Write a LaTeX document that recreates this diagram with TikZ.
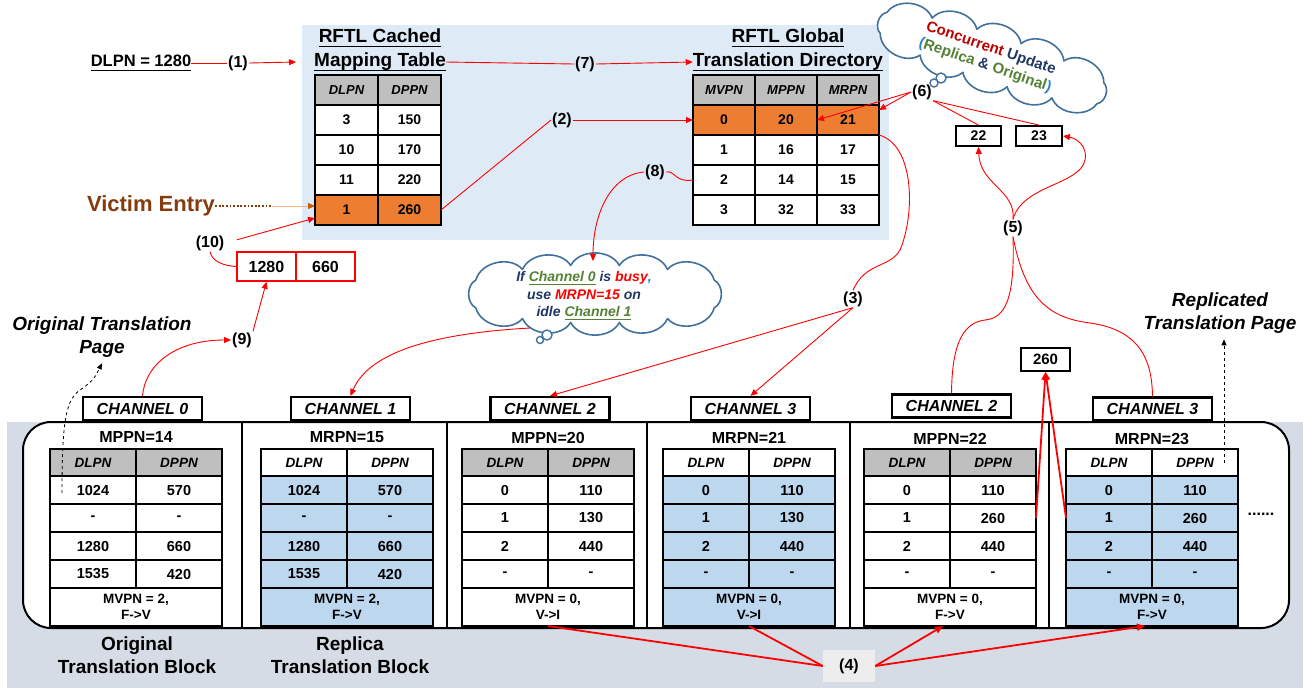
\documentclass[tikz,border=0pt]{standalone}
\usepackage{fontspec}
\setmainfont{Liberation Sans}
\usetikzlibrary{arrows.meta}
\newcommand{\myul}[2][0.2em]{\leavevmode\setbox0\hbox{#2}\rlap{\vrule height -#1 depth \dimexpr#1+1.4pt\relax width \wd0}\box0}
\definecolor{navy}{HTML}{203864}
\definecolor{cgreen}{HTML}{548235}
\definecolor{dred}{HTML}{C00000}
\definecolor{lblue}{HTML}{2E86C8}
\definecolor{cloudblue}{HTML}{41719C}
\definecolor{ora}{HTML}{ED7D31}
\definecolor{hgrey}{HTML}{BFBFBF}
\definecolor{cblue}{HTML}{BDD7EE}
\definecolor{topbg}{HTML}{DEEBF7}
\definecolor{botbg}{HTML}{D6DCE5}
\definecolor{victim}{HTML}{843C0C}
\definecolor{vline}{HTML}{F4B183}
\definecolor{vtip}{HTML}{C55A11}
\definecolor{sfour}{HTML}{EDEDED}
\newcommand{\fs}[2]{\fontsize{#1}{#2}\selectfont}
\tikzset{
 cellT/.style={draw=black, line width=2.2pt, inner sep=0pt, outer sep=0pt, minimum height=30pt, font=\bfseries\fs{14}{16}},
 hcellT/.style={cellT, font=\bfseries\itshape\fs{13}{15}},
 cellB/.style={draw=black, line width=2.2pt, inner sep=0pt, outer sep=0pt, minimum width=86pt, minimum height=28pt, font=\bfseries\fs{14.5}{17}},
 hcellB/.style={cellB, minimum height=27pt, font=\bfseries\itshape\fs{13.5}{16}},
 fcellB/.style={cellB, minimum width=172pt, minimum height=38pt, align=center, font=\bfseries\fs{13.5}{16}},
 chbox/.style={draw=black, line width=2.2pt, fill=white, minimum width=119pt, minimum height=23pt, inner sep=0pt, font=\bfseries\itshape\fs{16}{19}},
 blk/.style={font=\bfseries\fs{16}{19}, inner sep=0pt},
 stp/.style={font=\bfseries\fs{16}{19}, inner sep=1pt},
 ttl/.style={font=\bfseries\fs{19}{22}, inner sep=0pt},
 nbox/.style={draw=black, line width=1.8pt, fill=white, inner sep=0pt, font=\bfseries\fs{14}{16}},
 kbox/.style={draw=red, line width=1.5pt, fill=white, inner sep=0pt, minimum width=59pt, minimum height=29pt, font=\bfseries\fs{16}{19}},
 rl/.style={draw=red, line width=0.9pt},
 ra/.style={rl, -{Triangle[length=7pt,width=6pt]}},
 rthick/.style={draw=red, line width=1.8pt},
 rthicka/.style={rthick, -{Triangle[length=8pt,width=7pt]}},
 cloudline/.style={draw=cloudblue, line width=1.6pt, fill=white, line join=round},
 bub/.style={draw=cloudblue, line width=1.4pt, fill=white}
}
\newcommand{\btab}[6]{%
 \node[hcellB, fill=#3] (#1-h1) at ({#2+43},462.5) {DLPN};
 \node[hcellB, fill=#3] (#1-h2) at ({#2+129},462.5) {DPPN};
 \foreach \a/\b [count=\r] in {#5}{
  \node[cellB, fill=#4] (#1-\r-a) at ({#2+43},{462+28*\r}) {\a};
  \node[cellB, fill=#4] (#1-\r-b) at ({#2+129},{462+28*\r}) {\b};
 }
 \node[fcellB, fill=#4] (#1-f) at ({#2+86},607) {#6};
}
% cloud outline: centre x, centre y, rotation, semi-axis a, semi-axis b
\newcommand{\mycloud}[5]{%
 \begin{scope}[shift={(#1,#2)}, rotate=#3]
 \draw[cloudline] ({#4*cos(28.8)},{#5*sin(28.8)})
  \foreach \t in {57.8,79.7,100.3,122.2,151.2,208.8,237.8,259.7,280.3,302.2,331.2,388.8}
  { to[bend left=62] ({#4*cos(\t)},{#5*sin(\t)}) } -- cycle;
 \end{scope}}
\begin{document}
\begin{tikzpicture}[x=1pt,y=-1pt]
\useasboundingbox (0,0) rectangle (1306,689);
% backgrounds
\fill[topbg] (302,25) rectangle (889,240);
\fill[botbg] (7,422) rectangle (1303,688);
\draw[line width=2pt, fill=white, rounded corners=28pt] (23,422) rectangle (1289,628);
\foreach \x in {242,447,647,850,1049} \draw[line width=2pt] (\x,422) -- (\x,628);

% titles
\node[ttl] (rc) at (380,38) {\myul{RFTL Cached}};
\node[ttl] (mt) at (380,62) {\myul{Mapping Table}};
\node[ttl] (rg) at (788,38) {\myul{RFTL Global}};
\node[ttl] (td) at (788,62) {\myul{Translation Directory}};

% cached table
\node[hcellT, fill=hgrey, minimum width=63pt] (c-h1) at (346.5,90) {DLPN};
\node[hcellT, fill=hgrey, minimum width=63pt] (c-h2) at (409.5,90) {DPPN};
\foreach \a/\b/\f [count=\r] in {3/150/white,10/170/white,11/220/white,1/260/ora}{
 \node[cellT, fill=\f, minimum width=63pt] (c-\r-a) at (346.5,{90+30*\r}) {\a};
 \node[cellT, fill=\f, minimum width=63pt] (c-\r-b) at (409.5,{90+30*\r}) {\b};
}
% global table
\node[hcellT, fill=hgrey, minimum width=62pt] (g-h1) at (724,90) {MVPN};
\node[hcellT, fill=hgrey, minimum width=62pt] (g-h2) at (786,90) {MPPN};
\node[hcellT, fill=hgrey, minimum width=62pt] (g-h3) at (848,90) {MRPN};
\foreach \a/\b/\c/\f [count=\r] in {0/20/21/ora,1/16/17/white,2/14/15/white,3/32/33/white}{
 \node[cellT, fill=\f, minimum width=62pt] (g-\r-a) at (724,{90+30*\r}) {\a};
 \node[cellT, fill=\f, minimum width=62pt] (g-\r-b) at (786,{90+30*\r}) {\b};
 \node[cellT, fill=\f, minimum width=62pt] (g-\r-c) at (848,{90+30*\r}) {\c};
}

% bottom tables
\btab{t1}{50}{hgrey}{white}{1024/570,-/-,1280/660,1535/420}{MVPN = 2,\\F->V}
\btab{t2}{261}{white}{cblue}{1024/570,-/-,1280/660,1535/420}{MVPN = 2,\\F->V}
\btab{t3}{462}{hgrey}{white}{0/110,1/130,2/440,-/-}{MVPN = 0,\\V->I}
\btab{t4}{663}{white}{cblue}{0/110,1/130,2/440,-/-}{MVPN = 0,\\V->I}
\btab{t5}{864}{hgrey}{white}{0/110,1/260,2/440,-/-}{MVPN = 0,\\F->V}
\btab{t6}{1066}{white}{cblue}{0/110,1/260,2/440,-/-}{MVPN = 0,\\F->V}
\node[blk] (l1) at (136,437) {MPPN=14};
\node[blk] (l2) at (347,437) {MRPN=15};
\node[blk] (l3) at (548,438) {MPPN=20};
\node[blk] (l4) at (749,438) {MRPN=21};
\node[blk] (l5) at (950,439) {MPPN=22};
\node[blk] (l6) at (1152,439) {MRPN=23};
\node[font=\bfseries\fs{16}{19}] (dots) at (1261,514) {......};

% channel boxes
\node[chbox] (ch0) at (142.5,408.5) {CHANNEL 0};
\node[chbox] (ch1) at (350.5,408.5) {CHANNEL 1};
\node[chbox] (ch2a) at (550,408.5) {CHANNEL 2};
\node[chbox] (ch3a) at (750.5,408.5) {CHANNEL 3};
\node[chbox] (ch2b) at (951.5,406) {CHANNEL 2};
\node[chbox] (ch3b) at (1152.5,409) {CHANNEL 3};

% labels
\node[font=\bfseries\fs{19}{23}, align=center] (ob) at (137,655) {Original\\Translation Block};
\node[font=\bfseries\fs{19}{23}, align=center] (rb) at (350,655) {Replica\\Translation Block};
\node[font=\bfseries\fs{22}{26}, text=victim, inner sep=0pt] (ve) at (151,206) {Victim Entry};
\node[font=\bfseries\itshape\fs{19}{22.5}, align=center, inner sep=0pt] (otp) at (102,337) {Original Translation\\Page};
\node[font=\bfseries\itshape\fs{19}{22.5}, align=center, inner sep=0pt] (rtp) at (1220,313) {Replicated\\Translation Page};
\node[font=\bfseries\fs{16.5}{19}, inner sep=0pt] (dlpn) at (141,63) {\myul{DLPN = 1280}};

% small boxes
\node[nbox, minimum width=49pt, minimum height=23pt, font=\bfseries\fs{15}{17}] (n260) at (1045.5,359.5) {260};
\node[nbox, minimum width=45pt, minimum height=20pt] (n22) at (978.5,136) {22};
\node[nbox, minimum width=46pt, minimum height=20pt] (n23) at (1039,136) {23};
\node[kbox] (k1) at (266.5,266.5) {1280};
\node[kbox] (k2) at (325.5,266.5) {660};

% step labels
\node[stp] (s1) at (238,63) {(1)};
\node[stp] (s7) at (585,64) {(7)};
\node[stp] (s2) at (562,120) {(2)};
\node[stp] (s8) at (655,172) {(8)};
\node[stp] (s6) at (922,92) {(6)};
\node[stp] (s5) at (1013,228) {(5)};
\node[stp] (s3) at (853,299) {(3)};
\node[stp] (s10) at (210,243) {(10)};
\node[stp] (s9) at (242,340) {(9)};
\node[stp, fill=sfour, minimum width=52pt, minimum height=32pt] (s4) at (849,666) {(4)};

% clouds
\mycloud{595}{294}{0}{136}{29}
\coordinate (ifctop) at (593,261);
\coordinate (ifcout) at (530,328);
\draw[bub] (547,335) circle[radius=5pt];
\draw[bub] (540,340) circle[radius=3.5pt];
\node[align=center, font=\bfseries\itshape\fs{14}{17.5}, text=navy, inner sep=0pt] (ift) at (584,296)
 {If {\color{cgreen}\myul[0.15em]{Channel 0}} is {\color{red}busy}{\color{lblue},}\\use {\color{red}MRPN=15} on\\idle {\color{cgreen}\myul[0.15em]{Channel 1}}};
\mycloud{992}{58}{-18}{130}{23}
\draw[bub] (941,78) circle[radius=5pt];
\draw[bub] (934,83) circle[radius=4pt];
\node[align=center, rotate=-19, font=\bfseries\fs{15}{18}, inner sep=0pt] (cct) at (988,57)
 {{\color{dred}Concurrent} {\color{navy}Update}\\{\color{lblue}(}{\color{cgreen}Replica} {\color{navy}\&} {\color{cgreen}Original}{\color{lblue})}};

% connectors top
\draw[rl] (dlpn.east) -- (s1.west);
\draw[ra] (s1.east) -- ([xshift=-18pt]mt.west);
\draw[rl] (mt.east) -- (s7.west);
\draw[ra] (s7.east) -- (td.west);
\draw[rl] (c-4-b.east) -- (s2.west);
\draw[ra] (s2.east) -- (g-1-a.west);
\draw[rl] (g-3-a.west) .. controls (675,183) and (675,170) .. (s8.east);
\draw[ra] (s8.west) .. controls (610,175) and (593,215) .. (ifctop);
\draw[ra] (ifcout) .. controls (440,333) and (370,350) .. (ch1.north);
\draw[ra] (s6.west) -- (g-1-b.east);
\draw[ra] (s6.west) -- ([yshift=10pt]g-1-c.east);
\draw[rl] (s6.south east) -- (n22.north);
\draw[rl] (s6.south east) -- (n23.north);
\draw[ra] (s5.north) .. controls (1016,190) and (980,185) .. (n22.south);
\draw[ra] (s5.north) .. controls (1022,185) and (1080,185) .. (1085,160) .. controls (1088,145) and (1075,138) .. (n23.east);
\draw[rl] (s5.south) .. controls (1015,300) and (1005,318) .. (985,320) .. controls (960,323) and (952,350) .. (ch2b.north);
\draw[rl] (s5.south) .. controls (1025,300) and (1050,318) .. (1090,323) .. controls (1140,330) and (1152,360) .. (ch3b.north);
\draw[rl] (g-1-c.south east) .. controls (915,145) and (915,215) .. (900,250) .. controls (890,268) and (865,262) .. (s3.north);
\draw[ra] (s3.south) -- (ch2a.north);
\draw[ra] (s3.south) -- (ch3a.north);
% victim
\coordinate (vd) at (272,206);
\draw[victim, line width=1.8pt, dash pattern=on 1.8pt off 1.8pt] (ve.east) -- (vd);
\draw[draw=vline, line width=1pt, -{Triangle[length=7pt,width=6pt,color=vtip]}] (vd) -- ([yshift=4pt]c-4-a.west);
% (10) and (9)
\draw[ra, shorten <=12pt] (s10.east) -- ([yshift=-8pt]c-4-a.west);
\draw[rl] (s10.south) .. controls (212,262) and (225,266) .. (k1.west);
\draw[ra] (s9.north east) -- (k1.south);
\draw[ra] (ch0.north) .. controls (145,365) and (175,340) .. (s9.west);
% dashed pointers
\draw[dashed, line width=0.8pt, -{Triangle[length=6pt,width=5pt]}] ([xshift=12pt,yshift=-3pt]t1-1-a.west) .. controls (62,420) and (66,400) .. (80,390) .. controls (95,380) and (96,375) .. ([yshift=-6pt]otp.south);
\coordinate (rs) at ([xshift=-14pt]t6-h2.east);
\coordinate (re) at ([yshift=-6pt]rtp.south);
\draw[dashed, line width=0.8pt, -{Triangle[length=6pt,width=5pt]}] (rs) -- (rs |- re);
% 260 arrows
\draw[rthicka] (t5-2-b.east) -- (n260.south);
\draw[rthicka] (t6-2-a.west) -- (n260.south);
% (4)
\draw[rthick] (s4.west) -- (t3-f.south);
\draw[rthick] (s4.west) -- (t4-f.south);
\draw[rthicka] (s4.east) -- ([xshift=-7pt]t5-f.south);
\draw[rthicka] (s4.east) -- ([xshift=-7pt]t6-f.south);
\end{tikzpicture}
\end{document}
